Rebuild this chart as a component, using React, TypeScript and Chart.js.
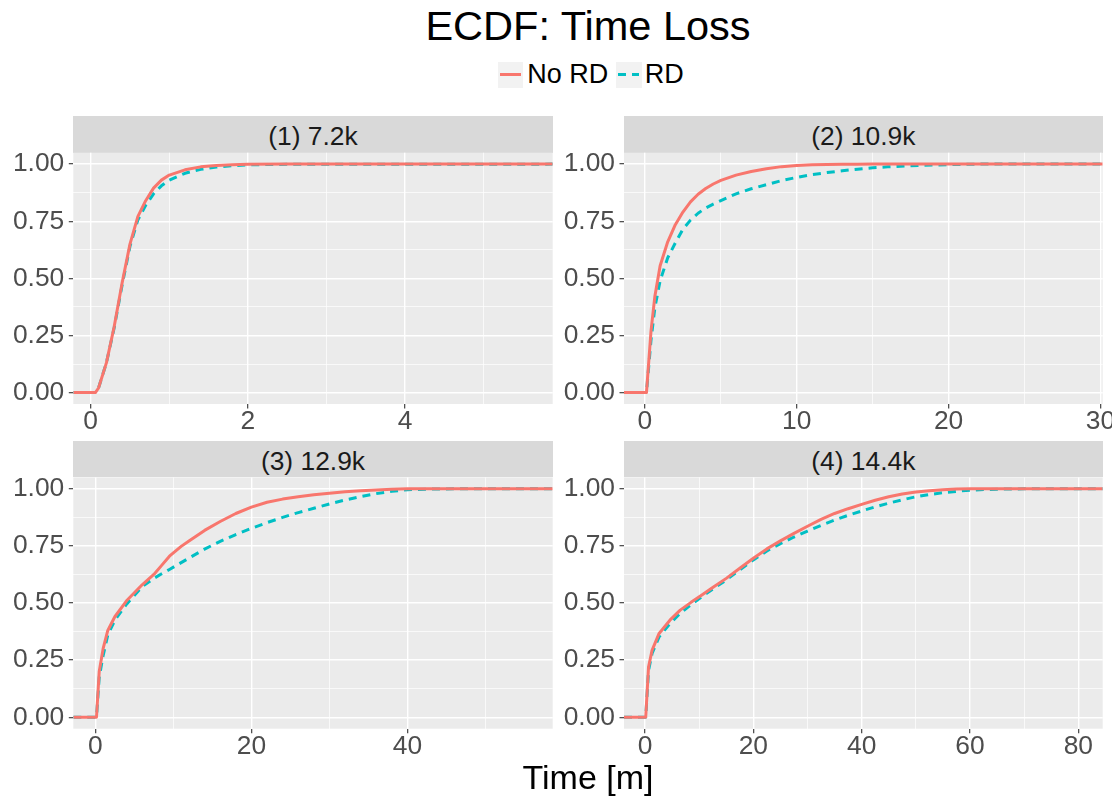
import React, { useEffect, useRef } from "react";
import { Chart, registerables } from "chart.js";
Chart.register(...registerables);

// ---------- data ----------
const chartTitle = "ECDF: Time Loss";
const xAxisTitle = "Time [m]";
const seriesNames = ["No RD", "RD"];
const panelTitles = ["(1) 7.2k", "(2) 10.9k", "(3) 12.9k", "(4) 14.4k"];

const yMajorTicks = [0, 0.25, 0.5, 0.75, 1];
const yMinorTicks = [0.125, 0.375, 0.625, 0.875];
const yRange = [-0.05, 1.05];

// Panel 1
const p1Time = [-0.221, 0.06, 0.1, 0.2, 0.3, 0.4, 0.5, 0.6, 0.7, 0.8, 0.9, 1.0, 1.2, 1.4, 1.6, 1.8, 2.0, 2.5, 5.879];
const p1NoRD = [0, 0, 0.02, 0.13, 0.29, 0.48, 0.65, 0.77, 0.84, 0.895, 0.93, 0.952, 0.975, 0.988, 0.994, 0.997, 0.999, 1, 1];
const p1RD = [0, 0, 0.02, 0.13, 0.285, 0.47, 0.64, 0.755, 0.82, 0.87, 0.905, 0.93, 0.96, 0.977, 0.987, 0.993, 0.997, 0.999, 1];
const p1XMajor = [0, 2, 4];
const p1XMinor = [1, 3, 5];
const p1XRange = [-0.221, 5.879];

// Panel 2
const p2Time = [-1.38, 0.1, 0.4, 0.65, 1, 1.5, 2, 2.5, 3, 3.5, 4, 4.5, 5, 6, 7, 8, 9, 10, 11, 12, 13, 14, 15, 16, 18, 20, 22, 30.15];
const p2NoRD = [0, 0, 0.27, 0.42, 0.555, 0.66, 0.735, 0.79, 0.835, 0.868, 0.893, 0.913, 0.929, 0.952, 0.968, 0.98, 0.989, 0.994, 0.997, 0.998, 0.999, 0.999, 1, 1, 1, 1, 1, 1];
const p2RD = [0, 0, 0.23, 0.37, 0.49, 0.59, 0.655, 0.715, 0.755, 0.785, 0.808, 0.825, 0.84, 0.87, 0.892, 0.91, 0.928, 0.942, 0.954, 0.963, 0.971, 0.978, 0.984, 0.988, 0.994, 0.998, 1, 1];
const p2XMajor = [0, 10, 20, 30];
const p2XMinor = [5, 15, 25];
const p2XRange = [-1.38, 30.15];

// Panel 3
const p3Time = [-2.82, 0.15, 0.5, 1, 1.6, 2.5, 4, 6, 7.5, 8.5, 9.5, 11, 12, 14, 16, 18, 20, 22, 24, 26, 28, 30, 32, 34, 36, 38, 40, 43, 46, 58.6];
const p3NoRD = [0, 0, 0.2, 0.3, 0.38, 0.44, 0.51, 0.58, 0.625, 0.665, 0.705, 0.748, 0.772, 0.818, 0.857, 0.892, 0.92, 0.941, 0.955, 0.965, 0.974, 0.981, 0.987, 0.992, 0.995, 0.998, 1, 1, 1, 1];
const p3RD = [0, 0, 0.175, 0.27, 0.36, 0.425, 0.495, 0.572, 0.608, 0.628, 0.647, 0.677, 0.697, 0.736, 0.77, 0.8, 0.827, 0.852, 0.875, 0.896, 0.915, 0.934, 0.951, 0.966, 0.979, 0.989, 0.996, 0.999, 1, 1];
const p3XMajor = [0, 20, 40];
const p3XMinor = [10, 30, 50];
const p3XRange = [-2.82, 58.6];

// Panel 4
const p4Time = [-3.88, 0.13, 0.65, 1.3, 2.6, 4.6, 6.5, 8.5, 10.5, 12.5, 15, 17.5, 20, 22.5, 25, 27.5, 30, 32.5, 35, 37.5, 40, 42.5, 45, 47.5, 50, 52.5, 55, 57.5, 60, 63, 66, 70, 84.5];
const p4NoRD = [0, 0, 0.22, 0.293, 0.367, 0.425, 0.469, 0.503, 0.535, 0.568, 0.608, 0.652, 0.696, 0.737, 0.772, 0.805, 0.836, 0.866, 0.892, 0.913, 0.932, 0.95, 0.965, 0.977, 0.986, 0.992, 0.996, 0.999, 1, 1, 1, 1, 1];
const p4RD = [0, 0, 0.205, 0.279, 0.352, 0.41, 0.455, 0.493, 0.528, 0.561, 0.601, 0.645, 0.689, 0.728, 0.76, 0.789, 0.815, 0.84, 0.863, 0.884, 0.903, 0.921, 0.937, 0.952, 0.965, 0.975, 0.983, 0.989, 0.994, 0.997, 0.999, 1, 1];
const p4XMajor = [0, 20, 40, 60, 80];
const p4XMinor = [10, 30, 50, 70];
const p4XRange = [-3.88, 84.5];

// ---------- style / layout ----------
const FONT = "'Liberation Sans', Arial, Helvetica, sans-serif";
const RED = "#F8766D";
const CYAN = "#00BFC4";
const TICK_FONT = 26.4;

const colPlot = [
  { left: 73.3, right: 552.7, canvasLeft: 0, canvasRight: 560 },
  { left: 624, right: 1102.7, canvasLeft: 556, canvasRight: 1112 },
];
const rowPlot = [
  { stripTop: 116, top: 152.7, bottom: 404, canvasTop: 145, canvasBottom: 440 },
  { stripTop: 440.7, top: 477.4, bottom: 728.7, canvasTop: 470, canvasBottom: 762 },
];

const bgPlugin = {
  id: "panelBg",
  beforeDraw(chart: any) {
    const { ctx, chartArea } = chart;
    ctx.save();
    ctx.fillStyle = "#EBEBEB";
    ctx.fillRect(chartArea.left, chartArea.top, chartArea.right - chartArea.left, chartArea.bottom - chartArea.top);
    ctx.restore();
  },
};

type PanelProps = {
  col: number;
  row: number;
  time: number[];
  noRD: number[];
  rd: number[];
  xMajor: number[];
  xMinor: number[];
  xRange: number[];
};

function Panel(p: PanelProps) {
  const ref = useRef<HTMLCanvasElement>(null);
  const c = colPlot[p.col];
  const r = rowPlot[p.row];
  const width = c.canvasRight - c.canvasLeft;
  const height = r.canvasBottom - r.canvasTop;

  useEffect(() => {
    const isXMajor = (v: number) => p.xMajor.some((m) => Math.abs(m - v) < 1e-9);
    const isYMajor = (v: number) => yMajorTicks.some((m) => Math.abs(m - v) < 1e-9);
    const chart = new Chart(ref.current as HTMLCanvasElement, {
      type: "line",
      data: {
        datasets: [
          {
            label: seriesNames[0],
            data: p.time.map((x, i) => ({ x, y: p.noRD[i] })),
            borderColor: RED,
            borderWidth: 3,
            pointRadius: 0,
            tension: 0,
            fill: false,
            borderCapStyle: "butt",
            borderJoinStyle: "round",
          },
          {
            label: seriesNames[1],
            data: p.time.map((x, i) => ({ x, y: p.rd[i] })),
            borderColor: CYAN,
            borderWidth: 3,
            borderDash: [8, 6],
            pointRadius: 0,
            tension: 0,
            fill: false,
            borderCapStyle: "butt",
            borderJoinStyle: "round",
          },
        ],
      },
      options: {
        animation: false,
        responsive: false,
        maintainAspectRatio: false,
        events: [],
        layout: {
          padding: {
            left: 0,
            top: r.top - r.canvasTop,
            right: c.canvasRight - c.right,
            bottom: 0,
          },
        },
        plugins: {
          legend: { display: false },
          tooltip: { enabled: false },
          title: { display: false },
        },
        scales: {
          x: {
            type: "linear",
            min: p.xRange[0],
            max: p.xRange[1],
            afterBuildTicks: (s: any) => {
              s.ticks = [...p.xMajor, ...p.xMinor].sort((a, b) => a - b).map((v) => ({ value: v }));
            },
            afterFit: (s: any) => {
              s.height = r.canvasBottom - r.bottom;
              s.paddingLeft = 0;
              s.paddingRight = 0;
            },
            ticks: {
              autoSkip: false,
              maxRotation: 0,
              minRotation: 0,
              padding: 0,
              color: "#4D4D4D",
              font: { family: FONT, size: TICK_FONT, lineHeight: 1 },
              callback: (v: any) => (isXMajor(Number(v)) ? String(v) : ""),
            },
            grid: {
              color: "#FFFFFF",
              lineWidth: (ctx: any) => (ctx.tick && isXMajor(ctx.tick.value) ? 1.4 : 0.7),
              drawTicks: true,
              tickLength: 4.5,
              tickWidth: 1.1,
              tickColor: (ctx: any) => (ctx.tick && isXMajor(ctx.tick.value) ? "#333333" : "rgba(0,0,0,0)"),
            },
            border: { display: false },
          },
          y: {
            type: "linear",
            min: yRange[0],
            max: yRange[1],
            afterBuildTicks: (s: any) => {
              s.ticks = [...yMajorTicks, ...yMinorTicks].sort((a, b) => a - b).map((v) => ({ value: v }));
            },
            afterFit: (s: any) => {
              s.width = c.left - c.canvasLeft;
              s.paddingTop = 0;
              s.paddingBottom = 0;
            },
            ticks: {
              autoSkip: false,
              padding: 4.5,
              color: "#4D4D4D",
              font: { family: FONT, size: TICK_FONT, lineHeight: 1 },
              callback: (v: any) => (isYMajor(Number(v)) ? Number(v).toFixed(2) : ""),
            },
            grid: {
              color: "#FFFFFF",
              lineWidth: (ctx: any) => (ctx.tick && isYMajor(ctx.tick.value) ? 1.4 : 0.7),
              drawTicks: true,
              tickLength: 4.5,
              tickWidth: 1.1,
              tickColor: (ctx: any) => (ctx.tick && isYMajor(ctx.tick.value) ? "#333333" : "rgba(0,0,0,0)"),
            },
            border: { display: false },
          },
        },
      },
      plugins: [bgPlugin],
    } as any);
    return () => chart.destroy();
  }, []);

  return (
    <canvas
      ref={ref}
      width={width}
      height={height}
      style={{ position: "absolute", left: c.canvasLeft, top: r.canvasTop, width, height }}
    />
  );
}

function Strip({ col, row, text }: { col: number; row: number; text: string }) {
  const c = colPlot[col];
  const r = rowPlot[row];
  const h = r.top - r.stripTop;
  return (
    <div
      style={{
        position: "absolute",
        left: c.left,
        top: r.stripTop,
        width: c.right - c.left,
        height: h,
        background: "#D9D9D9",
        color: "#1A1A1A",
        fontFamily: FONT,
        fontSize: TICK_FONT,
        lineHeight: `${h}px`,
        textAlign: "center",
        whiteSpace: "nowrap",
      }}
    >
      <span style={{ position: "relative", top: 2 }}>{text}</span>
    </div>
  );
}

export default function App() {
  const panels = [
    { col: 0, row: 0, time: p1Time, noRD: p1NoRD, rd: p1RD, xMajor: p1XMajor, xMinor: p1XMinor, xRange: p1XRange },
    { col: 1, row: 0, time: p2Time, noRD: p2NoRD, rd: p2RD, xMajor: p2XMajor, xMinor: p2XMinor, xRange: p2XRange },
    { col: 0, row: 1, time: p3Time, noRD: p3NoRD, rd: p3RD, xMajor: p3XMajor, xMinor: p3XMinor, xRange: p3XRange },
    { col: 1, row: 1, time: p4Time, noRD: p4NoRD, rd: p4RD, xMajor: p4XMajor, xMinor: p4XMinor, xRange: p4XRange },
  ];
  const centerLeft = colPlot[0].left;
  const centerWidth = colPlot[1].right - colPlot[0].left;
  return (
    <div
      style={{
        position: "absolute",
        left: 0,
        top: 0,
        width: 1117,
        height: 796,
        overflow: "hidden",
        background: "#FFFFFF",
        fontFamily: FONT,
      }}
    >
      <div
        style={{
          position: "absolute",
          left: centerLeft,
          width: centerWidth,
          top: 5,
          fontSize: 41.5,
          lineHeight: "41.5px",
          textAlign: "center",
          color: "#000000",
          whiteSpace: "nowrap",
        }}
      >
        {chartTitle}
      </div>

      {/* legend */}
      <div style={{ position: "absolute", left: 498.3, top: 61.7, width: 25, height: 26, background: "#F2F2F2" }}>
        <div style={{ position: "absolute", left: 2, top: 11.5, width: 21, height: 3, background: RED }} />
      </div>
      <div
        style={{
          position: "absolute",
          left: 527.3,
          top: 61,
          fontSize: 27,
          lineHeight: "27px",
          color: "#000000",
          whiteSpace: "nowrap",
        }}
      >
        {seriesNames[0]}
      </div>
      <div style={{ position: "absolute", left: 616, top: 61.7, width: 25.7, height: 26, background: "#F2F2F2" }}>
        <div style={{ position: "absolute", left: 2.3, top: 11.5, width: 7.7, height: 3, background: CYAN }} />
        <div style={{ position: "absolute", left: 15.7, top: 11.5, width: 7.7, height: 3, background: CYAN }} />
      </div>
      <div
        style={{
          position: "absolute",
          left: 644.7,
          top: 61,
          fontSize: 27,
          lineHeight: "27px",
          color: "#000000",
          whiteSpace: "nowrap",
        }}
      >
        {seriesNames[1]}
      </div>

      {panels.map((p, i) => (
        <Strip key={"s" + i} col={p.col} row={p.row} text={panelTitles[i]} />
      ))}
      {panels.map((p, i) => (
        <Panel key={"p" + i} {...p} />
      ))}

      <div
        style={{
          position: "absolute",
          left: centerLeft,
          width: centerWidth,
          top: 760,
          fontSize: 34,
          lineHeight: "34px",
          textAlign: "center",
          color: "#000000",
          whiteSpace: "nowrap",
        }}
      >
        {xAxisTitle}
      </div>
    </div>
  );
}
